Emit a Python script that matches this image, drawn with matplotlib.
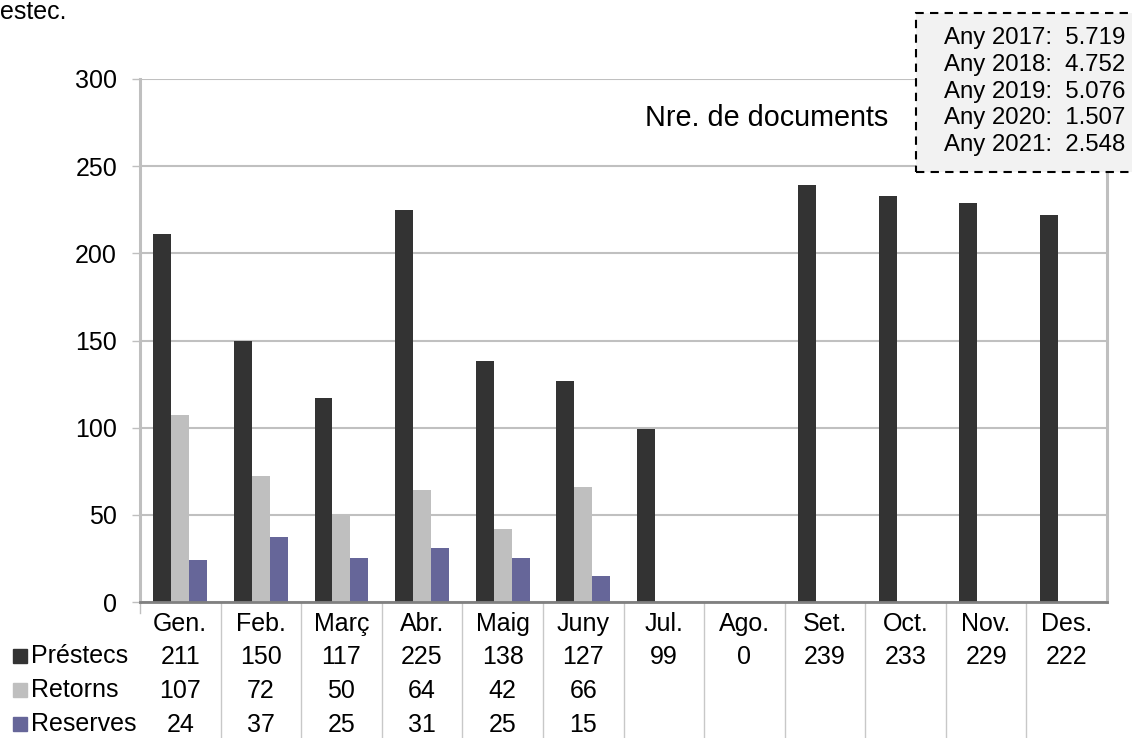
import numpy as np
import matplotlib
matplotlib.use("Agg")
import matplotlib.pyplot as plt
from matplotlib.lines import Line2D
from matplotlib.patches import Rectangle

plt.rcParams['font.family'] = ['Liberation Sans', 'DejaVu Sans']

months = ['Gen.', 'Feb.', 'Març', 'Abr.', 'Maig', 'Juny', 'Jul.', 'Ago.',
          'Set.', 'Oct.', 'Nov.', 'Des.']
prestecs = [211, 150, 117, 225, 138, 127, 99, 0, 239, 233, 229, 222]
retorns = [107, 72, 50, 64, 42, 66, None, None, None, None, None, None]
reserves = [24, 37, 25, 31, 25, 15, None, None, None, None, None, None]
series_names = ['Préstecs', 'Retorns', 'Reserves']
colors = ['#333333', '#bfbfbf', '#666699']

years = [2017, 2018, 2019, 2020, 2021]
year_totals = [5719, 4752, 5076, 1507, 2548]

W, H = 1132, 738
fs = 18
fig = plt.figure(figsize=(W / 100, H / 100), dpi=100)
ax = fig.add_axes([140 / W, 1 - 602 / H, (1107 - 140) / W, (602 - 79) / H])

x = np.arange(len(months))
bw = 0.223
all_series = [prestecs, retorns, reserves]
for i, (vals, c) in enumerate(zip(all_series, colors)):
    v = np.array([np.nan if a is None else a for a in vals], dtype=float)
    ax.bar(x + (i - 1) * bw, v, width=bw, color=c, zorder=2)

ax.set_xlim(-0.5, len(months) - 0.5)
ax.set_ylim(0, 300)
ax.set_yticks(range(0, 301, 50))
ax.yaxis.grid(True, color='#c0c0c0', lw=1.5)
ax.set_axisbelow(True)
ax.set_xticks([])
ax.tick_params(axis='y', labelsize=fs, length=6, width=1, color='#bfbfbf', pad=10.5)
for s in ['left', 'right']:
    ax.spines[s].set_color('#bfbfbf')
    ax.spines[s].set_linewidth(2.2)
ax.spines['top'].set_visible(False)
ax.spines['bottom'].set_color('#808080')
ax.spines['bottom'].set_linewidth(2)

# data table under the chart
axh = 602 - 79
row_y = [-22 / axh, -55 / axh, -89 / axh, -123 / axh]
trans = ax.get_xaxis_transform()
for i, m in enumerate(months):
    ax.text(i, row_y[0], m, transform=trans, ha='center', va='center', fontsize=fs)
    for r, vals in enumerate(all_series):
        if vals[i] is not None:
            ax.text(i, row_y[r + 1], str(vals[i]), transform=trans,
                    ha='center', va='center', fontsize=fs)
for k in range(1, len(months)):
    ax.plot([k - 0.5, k - 0.5], [0, -140 / axh], transform=trans,
            color='#c8c8c8', lw=1, clip_on=False)
ax.plot([-0.5, -0.5], [0, -11 / axh], transform=trans,
        color='#bfbfbf', lw=1, clip_on=False)

for r, (name, c) in enumerate(zip(series_names, colors)):
    yy = 1 - (656 + r * 34) / H
    fig.add_artist(Line2D([20 / W], [yy], marker='s', ms=10, color=c, lw=0))
    fig.text(31 / W, yy, name, ha='left', va='center', fontsize=fs)

ax.text(767 / W, 1 - 118 / H, 'Nre. de documents', transform=fig.transFigure,
        ha='center', va='center', fontsize=20.7)

# box with yearly totals
box = Rectangle((916 / W, 1 - 172 / H), 0.3, (172 - 13) / H, transform=fig.transFigure,
                facecolor='#f2f2f2', edgecolor='black', ls=(0, (4, 3)), lw=1.5, zorder=5)
fig.add_artist(box)
for j, (yr, tot) in enumerate(zip(years, year_totals)):
    label = 'Any %d:  %s' % (yr, f'{tot:,}'.replace(',', '.'))
    fig.text(1125 / W, 1 - (38 + j * 26.8) / H, label, ha='right', va='center',
             fontsize=17.3, zorder=6)

fig.text(0, 1, 'estec.', ha='left', va='top', fontsize=18)

fig.savefig('out.png', dpi=100)
